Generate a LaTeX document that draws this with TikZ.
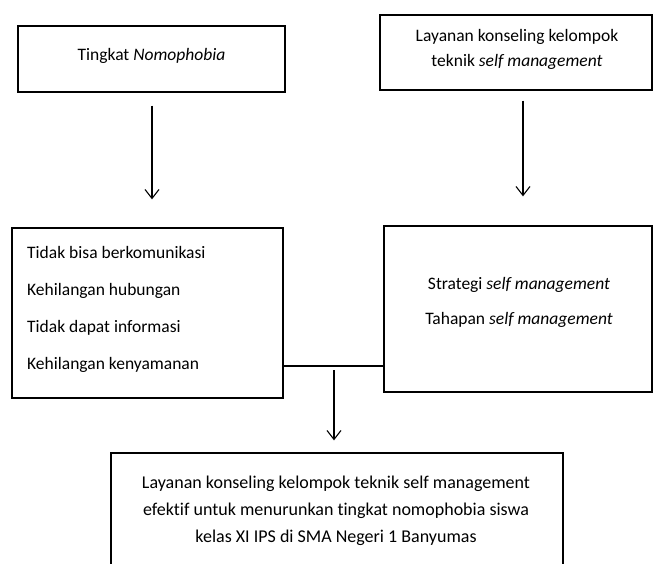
\documentclass[tikz,border=0pt]{standalone}
\usepackage{fontspec}
\setmainfont{Carlito}[RawFeature={-liga}]
\usetikzlibrary{arrows.meta}
\begin{document}
\begin{tikzpicture}[x=1pt,y=-1pt,
  box/.style={draw, line width=1.3pt, inner sep=0pt},
  lbl/.style={font=\fontsize{17.5}{25}\selectfont, inner sep=0pt},
  arr/.style={line width=1.1pt, -{Straight Barb[length=9pt,width=14pt,line width=1.1pt]}},
  conn/.style={line width=1.1pt}]
\useasboundingbox (0,0) rectangle (656,564);
\clip (0,0) rectangle (656,564);
\node[box, minimum width=267pt, minimum height=66pt] (b1) at (151.5,59) {};
\node[box, minimum width=272pt, minimum height=75pt] (b2) at (516,52.5) {};
\node[box, minimum width=271pt, minimum height=170pt] (b3) at (147.5,313) {};
\node[box, minimum width=268pt, minimum height=166pt] (b4) at (518,309) {};
\node[box, minimum width=452pt, minimum height=147pt] (b5) at (337,526.5) {};
\node[lbl] (t1) at (151.5,56) {Tingkat \textit{Nomophobia}};
\node[lbl, align=center] (t2) at (517,49) {Layanan konseling kelompok\\teknik \textit{self management}};
\node[lbl, align=left, anchor=west, font=\fontsize{17.5}{37}\selectfont] (t3) at (27,309) {Tidak bisa berkomunikasi\\Kehilangan hubungan\\Tidak dapat informasi\\Kehilangan kenyamanan};
\node[lbl, align=center, font=\fontsize{17.5}{35}\selectfont] (t4) at (519,302) {Strategi \textit{self management}\\Tahapan \textit{self management}};
\node[lbl, align=center, font=\fontsize{18}{27}\selectfont] (t5) at (336,511) {Layanan konseling kelompok teknik self management\\efektif untuk menurunkan tingkat nomophobia siswa\\kelas XI IPS di SMA Negeri 1 Banyumas};
\coordinate (j) at (334,366);
\draw[arr, shorten <=13pt, shorten >=28pt] ([xshift=0.5pt]b1.south) -- ([xshift=4.5pt]b3.north);
\draw[arr, shorten <=10pt, shorten >=29pt] ([xshift=7pt]b2.south) -- ([xshift=5pt]b4.north);
\draw[conn] (b3.east |- j) -- (b4.west |- j);
\draw[arr, shorten <=4pt, shorten >=12pt] (j) -- (b5.north -| j);
\end{tikzpicture}
\end{document}
